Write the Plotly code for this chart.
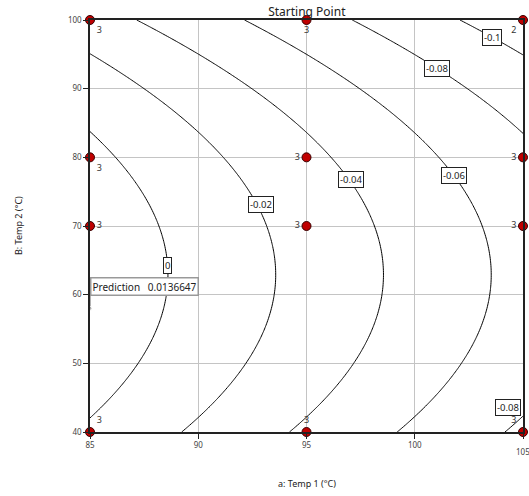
import numpy as np
import plotly.graph_objects as go

# Factor ranges
A_RANGE = [85, 105]   # a: Temp 1 (°C)
B_RANGE = [40, 100]   # B: Temp 2 (°C)
A_TICKS = [85, 90, 95, 100, 105]
B_TICKS = [40, 50, 60, 70, 80, 90, 100]

# Design points and replicate counts
design_a = [85, 95, 105, 85, 95, 105, 85, 95, 105, 85, 95, 105]
design_b = [100, 100, 100, 80, 80, 80, 70, 70, 70, 40, 40, 40]
design_n = ["3", "3", "2", "3", "3", "3", "3", "3", "3", "3", "3", "3"]
design_textpos = ["bottom right", "bottom center", "bottom left",
                  "bottom right", "middle left", "middle left",
                  "middle right", "middle left", "middle left",
                  "top right", "top center", "top left"]

# Fitted response model: R = -SLOPE * (a - A_ZERO + CURV * (b - B_CENTER)^2)
A_ZERO = 88.6
B_CENTER = 62.9
CURV = 0.00828
SLOPE = 0.004018

# Contour levels and where their labels sit (along B)
contour_levels = [0.0, -0.02, -0.04, -0.06, -0.08, -0.1, -0.08]
label_b = [64.2, 73.1, 76.7, 77.4, 93.0, 97.5, 42.2]
label_text = ["0", "-0.02", "-0.04", "-0.06", "-0.08", "-0.1", "-0.08"]
label_xshift = [0, 4, 2, 0, 0, 0, -14]
label_yshift = [0, 0, 0, 0, 0, 0, 9]

# Starting point and its prediction
start_a, start_b = 85, 58.0
prediction = 0.0136647


def response(a, b):
    return -SLOPE * (a - A_ZERO + CURV * (b - B_CENTER) ** 2)


def a_on_level(level, b):
    return A_ZERO - level / SLOPE - CURV * (b - B_CENTER) ** 2


ga = np.linspace(A_RANGE[0], A_RANGE[1], 241)
gb = np.linspace(B_RANGE[0], B_RANGE[1], 241)
AA, BB = np.meshgrid(ga, gb)
Z = response(AA, BB)

fig = go.Figure()

fig.add_trace(go.Contour(
    x=ga, y=gb, z=Z,
    contours=dict(start=-0.1, end=0.0001, size=0.02, coloring="lines", showlabels=False),
    colorscale=[[0, "black"], [1, "black"]],
    line=dict(width=1),
    showscale=False, hoverinfo="skip",
))

# Flag pole from the starting point to the prediction box
fig.add_trace(go.Scatter(
    x=[start_a, start_a], y=[start_b, 59.8], mode="lines+markers",
    line=dict(color="#999999", width=1.5),
    marker=dict(size=[4, 0], color="#999999"),
    cliponaxis=False, showlegend=False, hoverinfo="skip",
))

fig.add_trace(go.Scatter(
    x=design_a, y=design_b, mode="markers+text",
    text=design_n, textposition=design_textpos,
    textfont=dict(family="Noto Sans", size=9, color="#333333"),
    marker=dict(size=9, color="#c00000", line=dict(color="#3a0000", width=1)),
    cliponaxis=False, showlegend=False, hoverinfo="skip",
))

annotations = []
for lvl, bval, txt, xs, ys in zip(contour_levels, label_b, label_text, label_xshift, label_yshift):
    annotations.append(dict(
        x=a_on_level(lvl, bval), y=bval, xref="x", yref="y",
        text=txt, showarrow=False, xshift=xs, yshift=ys,
        font=dict(family="Noto Sans", size=9.5, color="#222222"),
        bgcolor="white", bordercolor="#222222", borderwidth=1, borderpad=1,
    ))

annotations.append(dict(
    x=start_a, y=59.8, xref="x", yref="y", xanchor="left", yanchor="bottom",
    text=f"Prediction&nbsp;&nbsp;&nbsp;{prediction}", showarrow=False,
    font=dict(family="Noto Sans", size=10, color="#222222"),
    bgcolor="white", bordercolor="#999999", borderwidth=1.5, borderpad=1,
))

# Last x tick label runs past the right edge of the page
annotations.append(dict(
    x=A_TICKS[-1], y=0, xref="x", yref="paper", yanchor="middle", yshift=-19,
    text=str(A_TICKS[-1]), showarrow=False,
    font=dict(family="Noto Sans", size=8, color="#444444"),
))

annotations.append(dict(
    x=0.5, y=0, xref="paper", yref="paper", yanchor="middle", yshift=-51,
    text="a: Temp 1 (°C)", showarrow=False,
    font=dict(family="Noto Sans", size=9, color="#222222"),
))
annotations.append(dict(
    x=0, y=0.5, xref="paper", yref="paper", xanchor="center", xshift=-72,
    text="B: Temp 2 (°C)", textangle=-90, showarrow=False,
    font=dict(family="Noto Sans", size=9, color="#222222"),
))

axis_common = dict(
    showgrid=True, gridcolor="#c4c4c4", gridwidth=1,
    showline=True, linecolor="#222222", linewidth=1.5, mirror=True,
    ticks="outside", ticklen=5, tickcolor="#222222",
    tickfont=dict(family="Noto Sans", size=8, color="#444444"),
    zeroline=False,
)

fig.update_layout(
    width=529, height=496,
    margin=dict(l=90, r=4, t=20, b=64),
    paper_bgcolor="white", plot_bgcolor="white",
    title=dict(text="Starting Point", x=0.58, xanchor="center", y=1 - 12 / 496, yanchor="middle",
               font=dict(family="Noto Sans", size=12, color="#222222")),
    xaxis=dict(range=A_RANGE, tickvals=A_TICKS,
               ticktext=[str(t) for t in A_TICKS[:-1]] + [""], **axis_common),
    yaxis=dict(range=B_RANGE, tickvals=B_TICKS, **axis_common),
    annotations=annotations,
)

fig.write_html("out.html")
